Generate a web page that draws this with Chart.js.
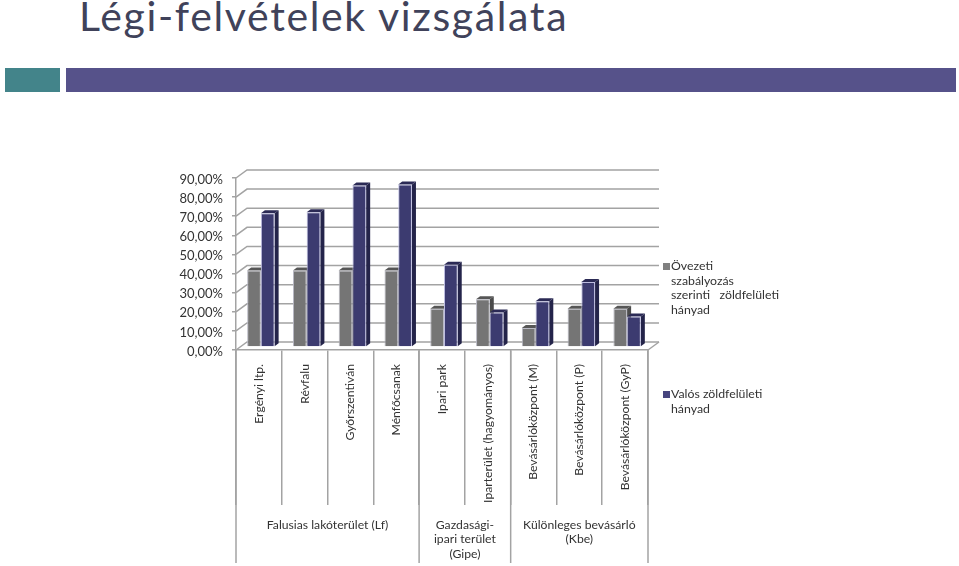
<!DOCTYPE html>
<html lang="hu">
<head>
<meta charset="utf-8">
<title>Légi-felvételek vizsgálata</title>
<script src="https://cdn.jsdelivr.net/npm/chart.js@4/dist/chart.umd.min.js"></script>
<style>
  html, body { margin: 0; padding: 0; background: #fff; }
  #page { position: relative; width: 959px; height: 566px; overflow: hidden; font-family: Lato, sans-serif; color: #333; }
  #radarChart { position: absolute; left: 0; top: 0; }
  h1 { position: absolute; left: 79px; top: -9px; margin: 0; font-size: 41px; font-weight: 400; color: #40425a; letter-spacing: 1.65px; white-space: nowrap; }
  .band { position: absolute; top: 68px; height: 24px; }
  .legend { position: absolute; left: 671px; font-size: 12.3px; line-height: 14.5px; white-space: pre; }
  .legend i { position: absolute; left: -8px; top: 4px; width: 7px; height: 7px; }
</style>
</head>
<body>
<div id="page">
  <h1>Légi-felvételek vizsgálata</h1>
  <div class="band" style="left:5px;width:55px;background:#43848a"></div>
  <div class="band" style="left:66px;width:890px;background:#56528a"></div>
  <canvas id="radarChart" width="959" height="566"></canvas>
</div>
<script>
// Adatok
const categories = ['Ergényi ltp.', 'Révfalu', 'Győrszentiván', 'Ménfőcsanak', 'Ipari park',
  'Iparterület (hagyományos)', 'Bevásárlóközpont (M)', 'Bevásárlóközpont (P)', 'Bevásárlóközpont (GyP)'];
const zonedValues = [40, 40, 40, 40, 20, 25, 10, 20, 20];
const realValues = [70, 70.5, 84.5, 85, 43, 18, 24, 34, 16];
const groupNames = [['Falusias lakóterület (Lf)'], ['Gazdasági-', 'ipari terület', '(Gipe)'], ['Különleges bevásárló', '(Kbe)']];
const groupSizes = [4, 2, 3];
const legendLabels = ['Övezeti\nszabályozás\nszerinti   zöldfelületi\nhányad', 'Valós zöldfelületi\nhányad'];
const tickStep = 10;
const tickMax = 90;

const fontFamily = 'Lato, sans-serif';
const textColor = '#333';
const lineColor = '#a3a3a3';
const barShift = { x: 2, y: -3 };   // oszlopok a padló közepén
const wallShift = { x: 11, y: -8 }; // hátsó fal eltolása
const barDepth = { x: 4, y: -3 };

const faces = [
    { front: '#757575', top: '#565656', side: '#4b4b4b', edge: '#b9b9c4' },
    { front: '#3c3b70', top: '#2b2a55', side: '#24244a', edge: '#bdbde0' }
];

function face(ctx, points, color) {
    ctx.fillStyle = color;
    ctx.beginPath();
    points.forEach((p, i) => i ? ctx.lineTo(p[0], p[1]) : ctx.moveTo(p[0], p[1]));
    ctx.closePath();
    ctx.fill();
}

// Hátsó fal, padló, oszlopok oldala és csoportcímkék
const wallPlugin = {
    id: 'wall',
    beforeDatasetsDraw(chart) {
        const { ctx, chartArea: a, scales: { y } } = chart;
        ctx.save();
        ctx.strokeStyle = lineColor;
        ctx.lineWidth = 1.5;
        y.ticks.forEach(t => {
            const py = y.getPixelForValue(t.value);
            ctx.beginPath();
            ctx.moveTo(a.left, py);
            ctx.lineTo(a.left + wallShift.x, py + wallShift.y);
            ctx.lineTo(a.right + wallShift.x, py + wallShift.y);
            ctx.stroke();
        });
        ctx.beginPath();
        ctx.moveTo(a.right, a.bottom);
        ctx.lineTo(a.right + wallShift.x, a.bottom + wallShift.y);
        ctx.stroke();
        ctx.restore();
        ctx.save();
        ctx.translate(barShift.x, barShift.y);
        // az oldallapok az elülső lapok alá kerülnek
        faces.forEach((c, i) => {
            chart.getDatasetMeta(i).data.forEach(bar => {
                const p = bar.getProps(['x', 'y', 'base', 'width']);
                const r = p.x + p.width / 2, l = p.x - p.width / 2;
                const dx = barDepth.x, dy = barDepth.y;
                face(ctx, [[r, p.y], [r + dx, p.y + dy], [r + dx, p.base + dy], [r, p.base]], c.side);
                face(ctx, [[l, p.y], [l + dx, p.y + dy], [r + dx, p.y + dy], [r, p.y]], c.top);
            });
        });
    },
    afterDatasetsDraw(chart) {
        const { ctx, chartArea: a, scales: { x } } = chart;
        ctx.restore();
        ctx.save();
        ctx.strokeStyle = lineColor;
        ctx.lineWidth = 1.5;
        ctx.fillStyle = textColor;
        ctx.font = '12.2px ' + fontFamily;
        ctx.textAlign = 'center';
        ctx.textBaseline = 'middle';
        const step = x.width / categories.length;
        let start = 0;
        const drop = px => {
            ctx.beginPath();
            ctx.moveTo(px, a.bottom);
            ctx.lineTo(px, 563);
            ctx.stroke();
        };
        drop(x.left);
        groupNames.forEach((lines, g) => {
            const end = start + groupSizes[g];
            const left = x.getPixelForValue(start) - step / 2;
            const right = x.getPixelForValue(end - 1) + step / 2;
            drop(right);
            lines.forEach((line, i) => ctx.fillText(line, (left + right) / 2, 525 + i * 14.5));
            start = end;
        });
        ctx.restore();
    }
};

new Chart(document.getElementById('radarChart'), {
    type: 'bar',
    data: {
        labels: categories,
        datasets: [
            { label: legendLabels[0], data: zonedValues, backgroundColor: faces[0].front, borderColor: faces[0].edge, borderWidth: 1 },
            { label: legendLabels[1], data: realValues, backgroundColor: faces[1].front, borderColor: faces[1].edge, borderWidth: 1 }
        ]
    },
    options: {
        responsive: false,
        animation: false,
        events: [],
        layout: { padding: { left: 0, right: 311, top: 178, bottom: 0 } },
        datasets: { bar: { categoryPercentage: 0.6, barPercentage: 1 } },
        scales: {
            x: {
                afterFit(scale) { scale.height = 216; },
                grid: { drawOnChartArea: false, tickLength: 155, color: lineColor, lineWidth: 1.5 },
                border: { color: lineColor, width: 1.5 },
                ticks: { autoSkip: false, minRotation: 90, maxRotation: 90, padding: -141, color: textColor, font: { family: fontFamily, size: 12.2 } }
            },
            y: {
                min: 0,
                max: tickMax,
                afterFit(scale) { scale.width = 236; },
                grid: { drawOnChartArea: false, tickLength: 4, color: lineColor, lineWidth: 1.5 },
                border: { color: lineColor, width: 1.5 },
                ticks: {
                    stepSize: tickStep,
                    padding: 9,
                    color: textColor,
                    font: { family: fontFamily, size: 13, lineHeight: '3px' },
                    // üres első sor: a felirat 1,5 px-szel lejjebb kerül
                    callback: v => ['', v.toFixed(2).replace('.', ',') + '%']
                }
            }
        },
        plugins: { legend: { display: false }, tooltip: { enabled: false } }
    },
    plugins: [wallPlugin]
});

// Jelmagyarázat
const legendTops = [259, 387];
legendLabels.forEach((text, i) => {
    const el = document.createElement('div');
    el.className = 'legend';
    el.style.top = legendTops[i] + 'px';
    el.textContent = text;
    const mark = document.createElement('i');
    mark.style.background = i ? '#47457f' : '#808080';
    el.appendChild(mark);
    document.getElementById('page').appendChild(el);
});
</script>
</body>
</html>
